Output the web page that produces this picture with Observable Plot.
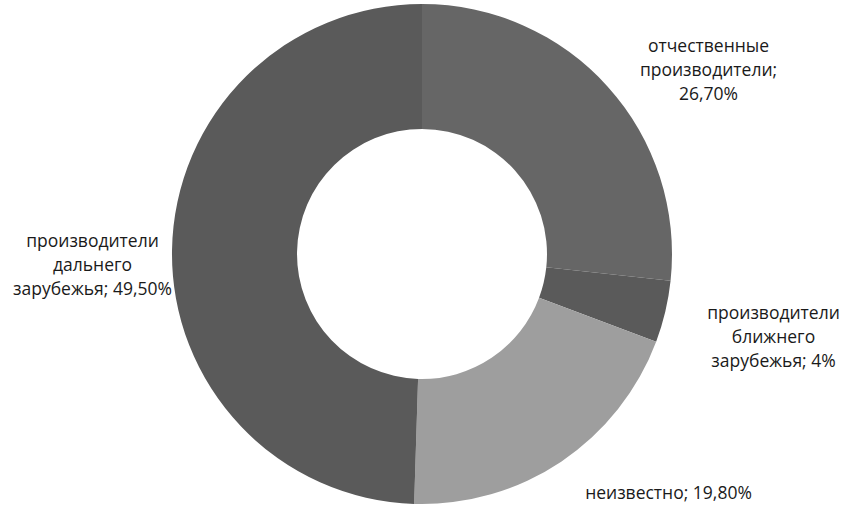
<!DOCTYPE html>
<html><head><meta charset="utf-8">
<script src="https://cdn.jsdelivr.net/npm/d3@7"></script>
<script src="https://cdn.jsdelivr.net/npm/@observablehq/plot@0.6"></script>
<style>html,body{margin:0;padding:0;background:#fff;overflow:hidden}</style>
</head><body><div id="chart"></div>
<script>
// Data
const categories = ["отчественные производители", "производители ближнего зарубежья", "неизвестно", "производители дальнего зарубежья"];
const values = [26.7, 4, 19.8, 49.5];
const valueLabels = ["26,70%", "4%", "19,80%", "49,50%"];
const labelLines = [["отчественные", "производители;", "26,70%"], ["производители", "ближнего", "зарубежья; 4%"], ["неизвестно; 19,80%"], ["производители", "дальнего", "зарубежья; 49,50%"]];

// Style / layout (kept separate from the data)
const colors = ["#666666", "#5a5a5a", "#9e9e9e", "#5a5a5a"];
const labelX = [1.144, 1.404, 0.984, -1.32];
const labelY = [0.744, -0.324, -0.948, -0.036];

const data = categories.map((c, i) => ({category: c, value: values[i]}));
const arcs = d3.pie().sort(null).value(d => d.value)(data);
const labels = categories.map((c, i) => ({category: c, text: labelLines[i].join("\n"), lx: labelX[i], ly: labelY[i]}));

function donut(index, scales) {
  const cx = scales.x(0), cy = scales.y(0);
  const R = Math.abs(scales.x(1) - scales.x(0));
  const arc = d3.arc().innerRadius(R * 0.5).outerRadius(R);
  const g = d3.create("svg:g").attr("transform", `translate(${cx},${cy})`);
  g.selectAll("path").data(arcs).join("path")
    .attr("d", arc)
    .attr("fill", (d, i) => colors[i]);
  return g.node();
}

const chart = Plot.plot({
  width: 843,
  height: 505,
  margin: 0,
  style: {background: "#fff", fontFamily: "Open Sans"},
  x: {domain: [-1, 1], range: [172, 672], axis: null},
  y: {domain: [-1, 1], range: [504, 4], axis: null},
  marks: [
    donut,
    Plot.text(labels, {x: "lx", y: "ly", text: "text", fontSize: 17.5, lineHeight: 1.36, textAnchor: "middle", lineAnchor: "middle", fill: "#1a1a1a"})
  ]
});
document.getElementById("chart").append(chart);
</script>
</body></html>
